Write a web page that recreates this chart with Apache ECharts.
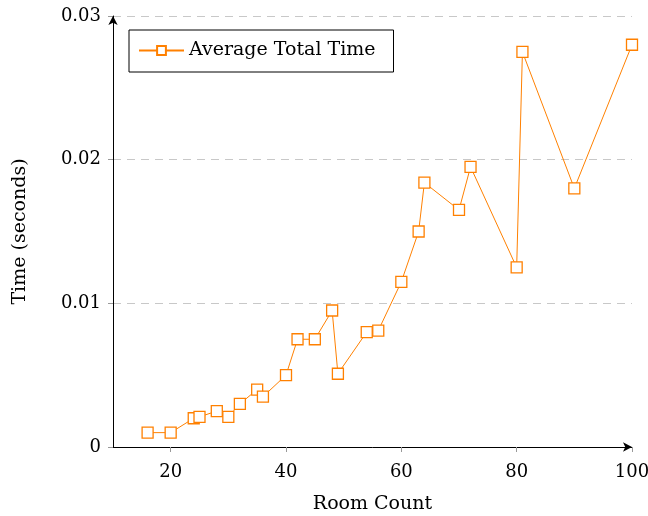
<!DOCTYPE html>
<html>
<head>
<meta charset="utf-8">
<script src="https://cdn.jsdelivr.net/npm/echarts@6/dist/echarts.min.js"></script>
<style>
  html, body { margin: 0; padding: 0; background: #fff; }
  #chart { width: 648px; height: 516px; }
</style>
</head>
<body>
<div id="chart"></div>
<script>
// room count / average time (s)
var roomCount = [16, 20, 24, 25, 28, 30, 32, 35, 36, 40, 42, 45, 48, 49, 54, 56, 60, 63, 64, 70, 72, 80, 81, 90, 100];
var avgTime = [0.001, 0.001, 0.002, 0.0021, 0.0025, 0.0021, 0.003, 0.004, 0.0035, 0.005, 0.0075, 0.0075, 0.0095, 0.0051,
    0.008, 0.0081, 0.0115, 0.015, 0.0184, 0.0165, 0.0195, 0.0125, 0.0275, 0.018, 0.028];
var xTicks = [20, 40, 60, 80, 100];
var yTicks = [0, 0.01, 0.02, 0.03];

var orange = '#ff8000';
var serif = '"DejaVu Serif", "Liberation Serif", serif';

var points = roomCount.map(function (x, i) { return [x, avgTime[i]]; });

var chart = echarts.init(document.getElementById('chart'));

chart.setOption({
    animation: false,
    textStyle: { fontFamily: serif },
    grid: { left: 113, right: 16, top: 16, bottom: 69, outerBoundsMode: 'none' },
    legend: {
        left: 129,
        top: 30,
        orient: 'vertical',
        borderColor: '#000',
        borderWidth: 1,
        padding: [11, 18, 12, 9],
        itemWidth: 45,
        itemHeight: 11,
        textStyle: { fontFamily: serif, fontSize: 19, color: '#000' },
        data: ['Average Total Time']
    },
    xAxis: {
        type: 'value',
        min: 10,
        max: 100,
        interval: 10,
        name: 'Room Count',
        nameLocation: 'middle',
        nameGap: 48,
        nameTextStyle: { fontFamily: serif, fontSize: 19, color: '#000' },
        axisLine: { lineStyle: { color: '#000', width: 1 }, symbol: ['none', 'arrow'], symbolSize: [7, 9] },
        axisTick: { show: true, length: 5, customValues: xTicks, lineStyle: { color: '#999' } },
        axisLabel: {
            fontFamily: serif, fontSize: 18, color: '#000', margin: 16,
            customValues: xTicks
        },
        splitLine: { show: false }
    },
    yAxis: {
        type: 'value',
        min: 0,
        max: 0.03,
        interval: 0.01,
        name: 'Time (seconds)',
        nameLocation: 'middle',
        nameGap: 83,
        nameTextStyle: { fontFamily: serif, fontSize: 19, color: '#000' },
        axisLine: { show: true, lineStyle: { color: '#000', width: 1 }, symbol: ['none', 'arrow'], symbolSize: [7, 9] },
        axisTick: { show: true, length: 5, lineStyle: { color: '#999' } },
        axisLabel: {
            fontFamily: serif, fontSize: 18, color: '#000', margin: 12,
            formatter: function (v) {
                var t = yTicks.filter(function (k) { return Math.abs(k - v) < 1e-9; });
                return t.length ? String(t[0]) : '';
            }
        },
        splitLine: { show: true, lineStyle: { color: '#c8c8c8', type: [8, 6], width: 1 } }
    },
    series: [{
        name: 'Average Total Time',
        type: 'line',
        data: points,
        symbol: 'rect',
        symbolSize: 11,
        showAllSymbol: true,
        itemStyle: { color: '#fff', borderColor: orange, borderWidth: 1.3 },
        lineStyle: { color: orange, width: 1 }
    }]
});
</script>
</body>
</html>
